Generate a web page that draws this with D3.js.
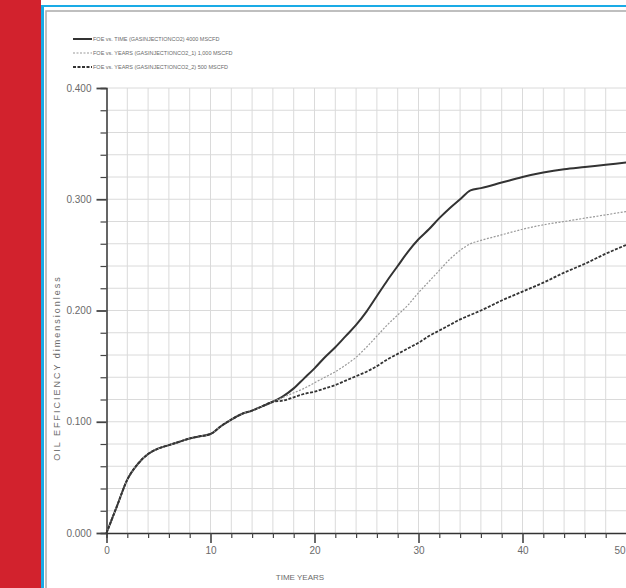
<!DOCTYPE html>
<html>
  <head>
    <meta charset="utf-8">
    <title>Oil Efficiency vs Time</title>
    <style>
      body { margin: 0; background: #fff; }
      svg { display: block; }
      text { font-family: "Liberation Sans Narrow", "Liberation Sans", Arial, sans-serif; fill: #6a6a6a; }
    </style>
  </head>
  <body>
    <div id="chart"></div>
    <script src="https://cdn.jsdelivr.net/npm/d3@7"></script>
    <script>
      // values
      var years = [0, 1, 2, 3, 4, 5, 6, 7, 8, 9, 10, 11, 12, 13, 14, 15, 16, 17,
        18, 19, 20, 21, 22, 23, 24, 25, 26, 27, 28, 29, 30, 31, 32, 33, 34, 35,
        36, 38, 40, 42, 44, 46, 48, 50];
      var early = [0, 0.024, 0.048, 0.062, 0.071, 0.076, 0.079, 0.082, 0.085,
        0.087, 0.089, 0.096, 0.102, 0.107, 0.110, 0.114, 0.118];
      var foe4000 = early.concat([0.123, 0.130, 0.139, 0.148, 0.158, 0.167, 0.177,
        0.187, 0.199, 0.213, 0.227, 0.240, 0.253, 0.264, 0.273, 0.283, 0.292,
        0.300, 0.308, 0.310, 0.315, 0.320, 0.324, 0.327, 0.329, 0.331, 0.333]);
      var foe1000 = early.concat([0.122, 0.126, 0.130, 0.135, 0.140, 0.145, 0.151,
        0.158, 0.167, 0.177, 0.187, 0.196, 0.205, 0.216, 0.226, 0.236, 0.246,
        0.254, 0.260, 0.263, 0.268, 0.273, 0.277, 0.280, 0.283, 0.286, 0.289]);
      var foe500 = early.concat([0.119, 0.122, 0.125, 0.127, 0.130, 0.133, 0.137,
        0.141, 0.145, 0.150, 0.156, 0.161, 0.166, 0.171, 0.177, 0.182, 0.187,
        0.192, 0.196, 0.200, 0.209, 0.217, 0.225, 0.234, 0.242, 0.251, 0.259]);
      var legendLabels = [
        'FOE vs. TIME (GASINJECTIONCO2)      4000 MSCFD',
        'FOE vs. YEARS (GASINJECTIONCO2_1) 1,000 MSCFD',
        'FOE vs. YEARS (GASINJECTIONCO2_2) 500 MSCFD'
      ];
      var xTicks = [0, 10, 20, 30, 40, 50];
      var yTicks = [0, 0.1, 0.2, 0.3, 0.4];

      var width = 626, height = 588;
      var svg = d3.select('#chart').append('svg')
        .attr('width', width).attr('height', height);

      // page frame
      svg.append('rect').attr('x', 0).attr('y', 0).attr('width', 41).attr('height', height).attr('fill', '#d2222d');
      svg.append('rect').attr('x', 41).attr('y', 5).attr('width', 3).attr('height', height).attr('fill', '#1aabe6');
      svg.append('rect').attr('x', 41).attr('y', 5).attr('width', width).attr('height', 2).attr('fill', '#1aabe6');
      svg.append('rect').attr('x', 46).attr('y', 11).attr('width', width).attr('height', height)
        .attr('fill', 'none').attr('stroke', '#aaa').attr('stroke-width', 1.5);

      var x = d3.scaleLinear().domain([0, 50]).range([106.5, 626.5]);
      var y = d3.scaleLinear().domain([0, 0.4]).range([533, 88]);

      // grid
      var grid = svg.append('g').attr('stroke', '#dadada').attr('stroke-width', 1);
      grid.selectAll('.gx').data(d3.range(2, 51, 2)).enter().append('line')
        .attr('x1', function(d) { return x(d); }).attr('x2', function(d) { return x(d); })
        .attr('y1', y(0)).attr('y2', y(0.4));
      grid.selectAll('.gy').data(d3.range(1, 21).map(function(i) { return i * 0.02; })).enter().append('line')
        .attr('x1', x(0)).attr('x2', width)
        .attr('y1', function(d) { return y(d); }).attr('y2', function(d) { return y(d); });

      // axes
      var xAxis = d3.axisBottom(x).tickValues(d3.range(0, 51, 2)).tickSize(5)
        .tickFormat(function(d) { return xTicks.indexOf(d) >= 0 ? d : ''; });
      var gx = svg.append('g').attr('transform', 'translate(0,' + y(0) + ')').call(xAxis);
      var yAxis = d3.axisLeft(y).tickValues(d3.range(0, 21).map(function(i) { return i * 0.02; })).tickSize(6)
        .tickFormat(function(d) {
          return yTicks.some(function(t) { return Math.abs(t - d) < 1e-9; }) ? d3.format('.3f')(d) : '';
        });
      var gy = svg.append('g').attr('transform', 'translate(' + x(0) + ',0)').call(yAxis);

      [gx, gy].forEach(function(g) {
        g.select('.domain').attr('stroke', '#333').attr('stroke-width', 1.5);
        g.selectAll('.tick line').attr('stroke', '#444').attr('stroke-width', 1.2);
        g.selectAll('text').attr('font-size', 10).attr('fill', '#707070')
          .style('font-family', '"Liberation Sans Narrow", "Liberation Sans", Arial, sans-serif');
      });
      gx.selectAll('.tick').filter(function(d) { return xTicks.indexOf(d) >= 0; })
        .select('line').attr('y2', 10).attr('stroke-width', 1.6);
      gx.selectAll('text').attr('y', 14);
      gx.selectAll('.tick').filter(function(d) { return d === 50; }).select('text')
        .attr('text-anchor', 'end').attr('dx', -1.5);
      gy.selectAll('.tick').filter(function(d) { return yTicks.some(function(t) { return Math.abs(t - d) < 1e-9; }); })
        .select('line').attr('x2', -10).attr('stroke-width', 1.8);
      gy.selectAll('text').attr('x', -15);

      // axis titles
      svg.append('text').attr('x', 300).attr('y', 580).attr('text-anchor', 'middle')
        .attr('font-size', 8).text('TIME   YEARS');
      svg.append('text').attr('transform', 'translate(60,368) rotate(-90)').attr('text-anchor', 'middle')
        .attr('font-size', 9).attr('letter-spacing', 2).text('OIL  EFFICIENCY   dimensionless');

      // series
      var series = [
        { values: foe4000, stroke: '#333', width: 2, dash: null },
        { values: foe1000, stroke: '#9a9a9a', width: 1.2, dash: '2,1.5' },
        { values: foe500, stroke: '#333', width: 1.8, dash: '3,1.5' }
      ];
      var line = d3.line()
        .x(function(d) { return x(d[0]); })
        .y(function(d) { return y(d[1]); })
        .curve(d3.curveMonotoneX);
      var clip = svg.append('clipPath').attr('id', 'plot');
      clip.append('rect').attr('x', x(0) - 2).attr('y', y(0.4)).attr('width', width).attr('height', y(0) - y(0.4) + 2);
      svg.append('g').attr('clip-path', 'url(#plot)').selectAll('path').data(series).enter().append('path')
        .attr('d', function(s) { return line(d3.zip(years, s.values)); })
        .attr('fill', 'none')
        .attr('stroke', function(s) { return s.stroke; })
        .attr('stroke-width', function(s) { return s.width; })
        .attr('stroke-dasharray', function(s) { return s.dash; });

      // legend
      var leg = svg.append('g').selectAll('g').data(series).enter().append('g')
        .attr('transform', function(d, i) { return 'translate(73,' + (39 + i * 14) + ')'; });
      leg.append('line').attr('x1', 0).attr('x2', 19).attr('y1', 0).attr('y2', 0)
        .attr('stroke', function(s) { return s.stroke; })
        .attr('stroke-width', function(s) { return s.width; })
        .attr('stroke-dasharray', function(s) { return s.dash; });
      leg.append('text').attr('x', 20).attr('y', 2).attr('font-size', 5.5).attr('fill', '#777')
        .text(function(d, i) { return legendLabels[i]; });
    </script>
  </body>
</html>
